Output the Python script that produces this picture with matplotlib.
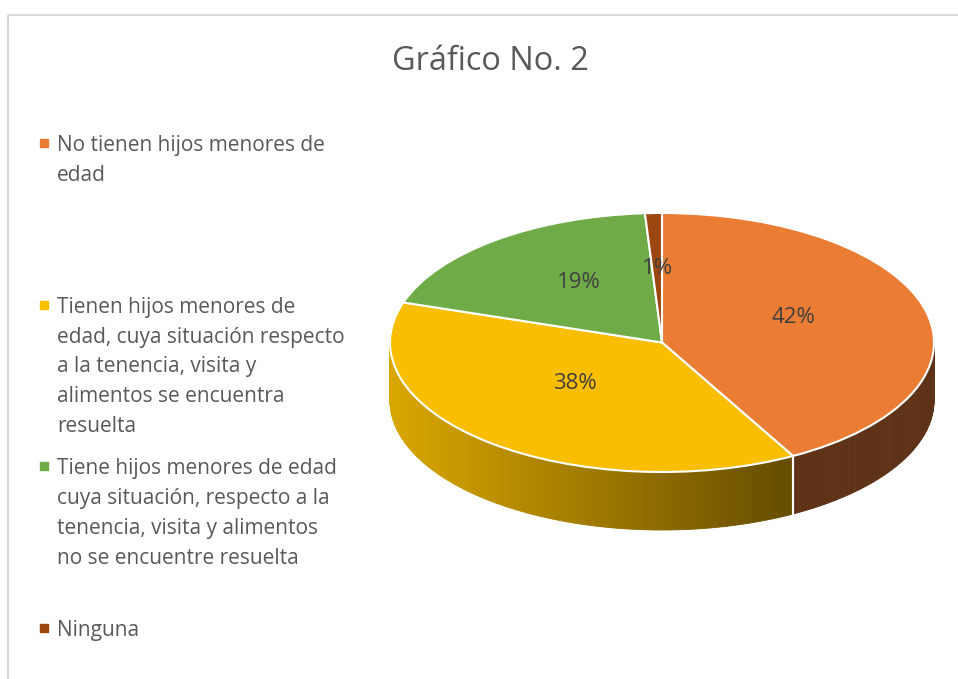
import numpy as np
import matplotlib.pyplot as plt
from matplotlib.patches import Polygon, Rectangle
from matplotlib.colors import to_rgb

# ============================================
# DATOS
# ============================================
titulo = "Gráfico No. 2"
categorias = [
    "No tienen hijos menores de\nedad",
    "Tienen hijos menores de\nedad, cuya situación respecto\na la tenencia, visita y\nalimentos se encuentra\nresuelta",
    "Tiene hijos menores de edad\ncuya situación, respecto a la\ntenencia, visita y alimentos\nno se encuentre resuelta",
    "Ninguna",
]
porcentajes = [42, 38, 19, 1]
colores = ["#EA7C33", "#F9BE00", "#6FAC47", "#9C470F"]

plt.rcParams["font.family"] = ["Open Sans", "DejaVu Sans"]

W, H = 958, 679
fig = plt.figure(figsize=(W / 100, H / 100), dpi=100)

# ============================================
# FONDO: marco, titulo y leyenda (coordenadas en pixeles)
# ============================================
bg = fig.add_axes([0, 0, 1, 1])
bg.set_xlim(0, W)
bg.set_ylim(H, 0)
bg.axis("off")
bg.add_patch(Rectangle((8.5, 15), 2000, 2000, fill=False,
                       edgecolor="#D9D9D9", lw=1.5))
bg.text(490, 61, titulo, ha="center", va="center", fontsize=23.4,
        color="#595959")

for i, (cat, col) in enumerate(zip(categorias, colores)):
    yy = 143 + i * 161.7
    bg.add_patch(Rectangle((40, yy - 4), 8, 8, color=col))
    bg.text(57, yy - 8, cat, ha="left", va="top", fontsize=15,
            color="#595959", linespacing=1.55)

# ============================================
# PASTEL 3D
# ============================================
rx, ry = 272, 129.5      # pixeles por unidad
cx, cy = 662, 342.5      # centro de la elipse
x0, x1 = -1.05, 1.05
y0, y1 = -1.6, 1.05
ax = fig.add_axes([(cx + x0 * rx) / W, (H - (cy - y0 * ry)) / H,
                   (x1 - x0) * rx / W, (y1 - y0) * ry / H])

wedges, texts, autotexts = ax.pie(
    porcentajes, colors=colores, startangle=90, counterclock=False,
    autopct="%1.0f%%", pctdistance=0.5,
    wedgeprops=dict(edgecolor="white", linewidth=1.5),
    textprops=dict(fontsize=16, color="#404040"))
ax.set_aspect("auto")
ax.set_xlim(x0, x1)
ax.set_ylim(y0, y1)
for t in autotexts:
    px, py = t.get_position()
    t.set_position((px, py + 0.07))
    t.set_zorder(5)

# paredes laterales
depth = 58 / ry
side_dark = {0: ("#5E3216", "#5E3216"), 1: ("#DAA700", "#614900")}
for i, w in enumerate(wedges):
    c_left, c_right = side_dark.get(i, ("#555555", "#555555"))
    c_left, c_right = np.array(to_rgb(c_left)), np.array(to_rgb(c_right))
    th = np.radians(np.linspace(w.theta1, w.theta2, 240))
    for a, b in zip(th[:-1], th[1:]):
        if np.sin((a + b) / 2) >= 0:
            continue
        xm = (np.cos(a) + np.cos(b)) / 2
        f = np.clip((xm + 1) / 1.53, 0, 1)
        c = c_left * (1 - f) + c_right * f
        quad = [(np.cos(a), np.sin(a)), (np.cos(b), np.sin(b)),
                (np.cos(b), np.sin(b) - depth), (np.cos(a), np.sin(a) - depth)]
        ax.add_patch(Polygon(quad, closed=True, facecolor=c, edgecolor=c,
                             lw=0.6, zorder=0.5))
    # linea blanca en la union de lados visibles
    for t0 in (w.theta1, w.theta2):
        r = np.radians(t0)
        if np.sin(r) < -0.05 and abs(np.cos(r)) < 0.99:
            ax.plot([np.cos(r), np.cos(r)], [np.sin(r), np.sin(r) - depth],
                    color="white", lw=1.5, zorder=0.6)

fig.savefig("out.png", dpi=100)
